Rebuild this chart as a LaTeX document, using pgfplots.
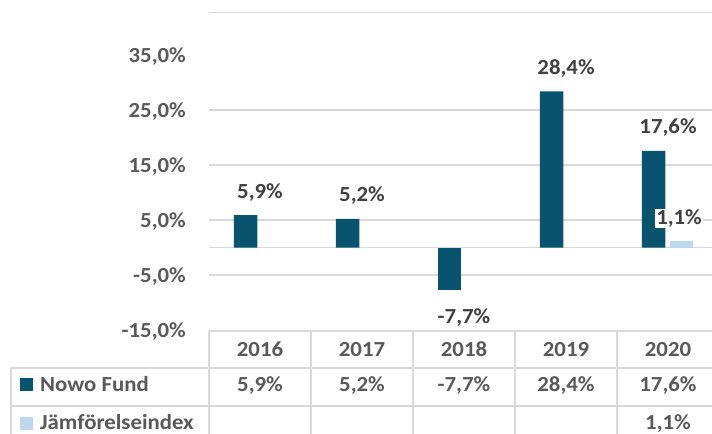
\documentclass[border=0pt]{standalone}
\usepackage{pgfplots}
\pgfplotsset{compat=1.18}
\usepackage{fontspec}
\setmainfont{Carlito}[FakeStretch=1.06]
\definecolor{fund}{HTML}{08546F}
\definecolor{bench}{HTML}{BDD7EE}
\definecolor{gridc}{HTML}{D9D9D9}
\definecolor{tickc}{HTML}{595959}
\definecolor{labc}{HTML}{404040}
\newcommand{\cf}{\fontsize{21.5bp}{24bp}\selectfont\bfseries}
\begin{document}
\begin{tikzpicture}[x=1bp,y=1bp]
\begin{axis}[
  scale only axis, width=503bp, height=317.7bp,
  xmin=-0.5, xmax=4.431, ymin=-15, ymax=42.8,
  axis line style={draw=none},
  xtick=\empty,
  ytick={-15,-5,5,15,25,35},
  major tick length=0pt,
  extra y ticks={-5,0,5,15,25,42.8},
  extra y tick labels={},
  extra y tick style={grid=major, major grid style={gridc, line width=1.5bp}},
  /pgf/number format/assume math mode=true,
  yticklabel={\pgfmathprintnumber[fixed,fixed zerofill,precision=1,use comma]{\tick}\%},
  yticklabel style={font=\cf, text=tickc, inner sep=0pt, anchor=east, xshift=-23bp, yshift=-1.5bp},
  clip=false,
]
\coordinate (O) at (rel axis cs:0,0);
\addplot[ybar, bar width=23.5bp, bar shift=-14.5bp, fill=fund, draw=none,
  nodes near coords={\pgfmathprintnumber[fixed,fixed zerofill,precision=1,use comma,assume math mode=true]{\pgfplotspointmeta}\%},
  nodes near coords style={font=\cf, text=labc, anchor=center, yshift=23bp}]
  coordinates {(0,5.9) (1,5.2) (3,28.4) (4,17.6)};
\addplot[ybar, bar width=23.5bp, bar shift=-14.5bp, fill=fund, draw=none,
  nodes near coords={\pgfmathprintnumber[fixed,fixed zerofill,precision=1,use comma,assume math mode=true]{\pgfplotspointmeta}\%},
  nodes near coords style={font=\cf, text=labc, anchor=center, yshift=-28bp}]
  coordinates {(2,-7.7)};
\addplot[ybar, bar width=23.5bp, bar shift=13.5bp, fill=bench, draw=none,
  nodes near coords={\pgfmathprintnumber[fixed,fixed zerofill,precision=1,use comma,assume math mode=true]{\pgfplotspointmeta}\%},
  nodes near coords style={font=\cf, text=labc, anchor=center, yshift=23bp, xshift=11bp, fill=white, inner sep=1pt}]
  coordinates {(4,1.1)};
\end{axis}
\pgfresetboundingbox
\begin{scope}[shift={(O)}, xshift=-209bp, yshift=-104bp]
\useasboundingbox (0,0) rectangle (712,434);
% data table
\begin{scope}[draw=gridc, line width=2bp]
\draw (209,103) -- (712,103);
\draw (11,66) -- (712,66);
\draw (11,28) -- (712,28);
\draw (11,66) -- (11,0);
\foreach \x in {209,311,413,515,617} \draw (\x,103) -- (\x,0);
\end{scope}
\begin{scope}[every node/.style={font=\cf, text=tickc, inner sep=0pt, anchor=base}]
\foreach \x/\t in {260/2016,362/2017,464/2018,566/2019,668/2020} \node at (\x,77) {\t};
\foreach \x/\t in {260/{5,9\%},362/{5,2\%},464/{-7,7\%},566/{28,4\%},668/{17,6\%}} \node at (\x,42) {\t};
\node at (668,4) {1,1\%};
\node[anchor=base west] at (40,42) {Nowo Fund};
\node[anchor=base west] at (40,4) {Jämförelseindex};
\end{scope}
\fill[fund] (20,43) rectangle (33,56);
\fill[bench] (20,4) rectangle (33,17);
\end{scope}
\end{tikzpicture}
\end{document}
